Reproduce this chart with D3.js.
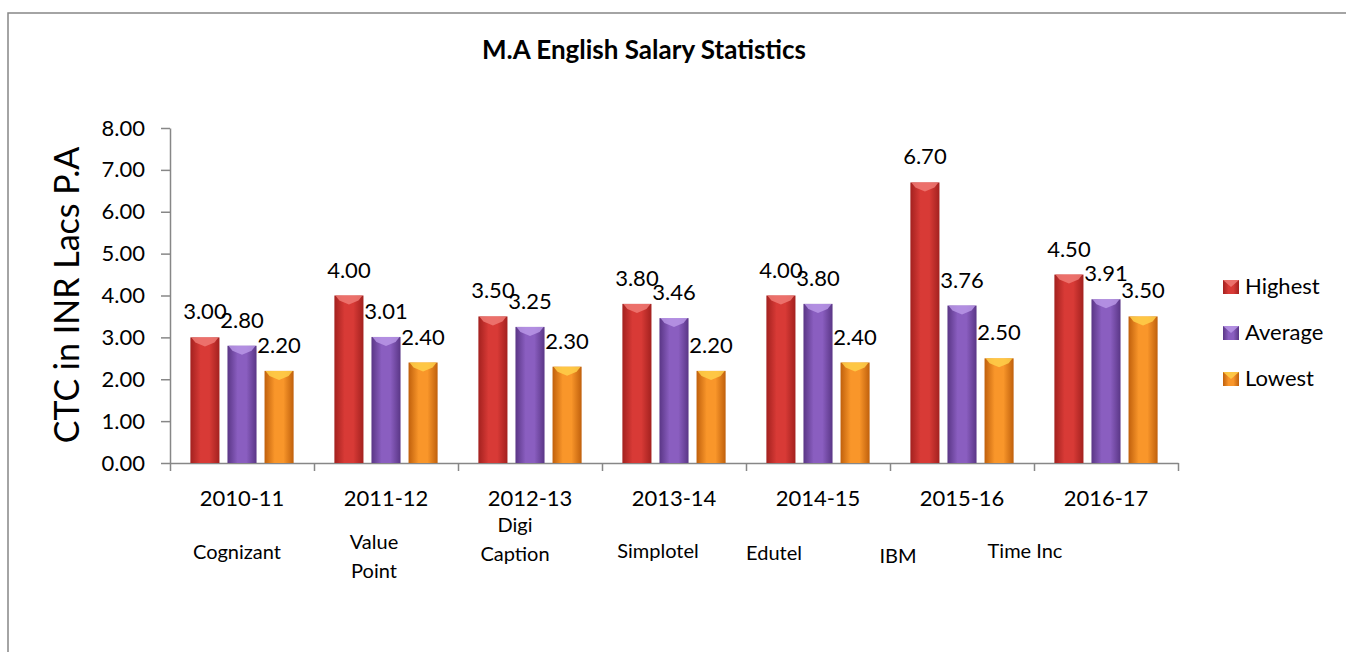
<!DOCTYPE html>
<html>
<head>
<meta charset="utf-8">
<script src="https://cdn.jsdelivr.net/npm/d3@7"></script>
<style>
  body { margin: 0; background: #fff; }
  svg { display: block; font-family: Lato, "Open Sans", sans-serif; }
</style>
</head>
<body>
<svg id="chart" width="1346" height="652"></svg>
<script>
// chart data
let years = ["2010-11", "2011-12", "2012-13", "2013-14", "2014-15", "2015-16", "2016-17"];
let companies = [["Cognizant"], ["Value", "Point"], ["Digi", "Caption"], ["Simplotel"], ["Edutel"], ["IBM"], ["Time Inc"]];
let series = ["Highest", "Average", "Lowest"];
let highest = [3.00, 4.00, 3.50, 3.80, 4.00, 6.70, 4.50];
let average = [2.80, 3.01, 3.25, 3.46, 3.80, 3.76, 3.91];
let lowest = [2.20, 2.40, 2.30, 2.20, 2.40, 2.50, 3.50];
let yTicks = [0, 1, 2, 3, 4, 5, 6, 7, 8];

// company text boxes sit a bit off the category centres (dx, baseline of last line)
let companyNudge = [[-5, 559], [-12, 578], [-15, 561], [-16, 558], [-44, 560], [-64, 563], [-81, 558]];

let colors = {
    "Highest": {edge: "#a3211f", mid: "#d83a36", cap: "#f07a74"},
    "Average": {edge: "#5a3686", mid: "#8a5ec0", cap: "#b996e6"},
    "Lowest":  {edge: "#c0600c", mid: "#f9962a", cap: "#ffd04a"}
};

let svg = d3.select("#chart");
let plotLeft = 170, plotRight = 1178, plotTop = 128, plotBottom = 463;

let values = {"Highest": highest, "Average": average, "Lowest": lowest};
let rows = [];
years.forEach(function(yr, i){
    series.forEach(function(s){
        rows.push({year: yr, series: s, value: values[s][i]});
    });
});

let x = d3.scaleBand().domain(years).range([plotLeft, plotRight]).padding(0);
let xs = d3.scaleBand().domain(series).range([0, x.bandwidth()]).paddingInner(0.216).paddingOuter(0.55);
let y = d3.scaleLinear().domain([0, 8]).range([plotBottom, plotTop]);
let xEdge = d3.scaleLinear().domain([0, years.length]).range([plotLeft, plotRight]);

/* gradients */
let defs = svg.append("defs");
series.forEach(function(s, i){
    let g = defs.append("linearGradient").attr("id", "grad" + i)
        .attr("x1", "0").attr("x2", "1").attr("y1", "0").attr("y2", "0");
    g.append("stop").attr("offset", "0%").attr("stop-color", colors[s].edge);
    g.append("stop").attr("offset", "35%").attr("stop-color", colors[s].mid);
    g.append("stop").attr("offset", "65%").attr("stop-color", colors[s].mid);
    g.append("stop").attr("offset", "100%").attr("stop-color", colors[s].edge);
});

/* outer frame */
svg.append("path")
    .attr("d", "M8,652 L8,13 L1346,13")
    .attr("fill", "none").attr("stroke", "#878787").attr("stroke-width", 1.5);

/* title */
svg.append("text")
    .attr("x", 644).attr("y", 59)
    .attr("text-anchor", "middle")
    .attr("font-size", 26).attr("font-weight", "bold")
    .text("M.A English Salary Statistics");

/* y axis title */
svg.append("text")
    .attr("transform", "translate(79,295) rotate(-90)")
    .attr("text-anchor", "middle")
    .attr("font-size", 34)
    .text("CTC in INR Lacs P.A");

/* y axis */
let yAxis = svg.append("g")
    .attr("transform", "translate(" + plotLeft + ",0)")
    .call(d3.axisLeft(y).tickValues(yTicks).tickFormat(d3.format(".2f")).tickSize(9).tickSizeOuter(0).tickPadding(16));
yAxis.selectAll("text").attr("font-size", 22).attr("fill", "#000").attr("font-family", "Lato, sans-serif");

/* x axis: ticks on category boundaries */
let xAxis = svg.append("g")
    .attr("transform", "translate(0," + plotBottom + ")")
    .call(d3.axisBottom(xEdge).ticks(years.length).tickFormat("").tickSize(8).tickSizeOuter(0));
svg.selectAll(".domain, .tick line").attr("stroke", "#878787").attr("stroke-width", 1.5);

/* category labels */
svg.append("g").selectAll("text")
    .data(years)
    .enter()
    .append("text")
    .attr("x", function(d){ return x(d) + x.bandwidth() / 2; })
    .attr("y", 506)
    .attr("text-anchor", "middle")
    .attr("font-size", 22)
    .text(function(d){ return d; });

/* company labels */
let comp = svg.append("g").selectAll("text")
    .data(companies)
    .enter()
    .append("text")
    .attr("text-anchor", "middle")
    .attr("font-size", 20)
    .attr("x", function(d, i){ return x(years[i]) + x.bandwidth() / 2 + companyNudge[i][0]; })
    .attr("y", function(d, i){ return companyNudge[i][1] - (d.length - 1) * 29; });
comp.each(function(d, i){
    let t = d3.select(this);
    let cx = +t.attr("x");
    d.forEach(function(line, j){
        t.append("tspan").attr("x", cx).attr("dy", j === 0 ? 0 : 29).text(line);
    });
});

/* bars */
let bars = svg.append("g").selectAll("g.bar")
    .data(rows)
    .enter()
    .append("g")
    .attr("class", "bar");

bars.append("rect")
    .attr("x", function(d){ return x(d.year) + xs(d.series); })
    .attr("y", function(d){ return y(d.value); })
    .attr("width", xs.bandwidth())
    .attr("height", function(d){ return plotBottom - y(d.value); })
    .attr("fill", function(d){ return "url(#grad" + series.indexOf(d.series) + ")"; });

// bevelled top of each bar
bars.append("path")
    .attr("d", function(d){
        let x0 = x(d.year) + xs(d.series), w = xs.bandwidth(), t = y(d.value);
        return "M" + (x0 + 1) + "," + t + " L" + (x0 + w - 1) + "," + t +
            " L" + (x0 + w - 5) + "," + (t + 5) + " L" + (x0 + w / 2) + "," + (t + 9) +
            " L" + (x0 + 5) + "," + (t + 5) + " Z";
    })
    .attr("fill", function(d){ return colors[d.series].cap; })
    .attr("opacity", 0.85);

/* value labels (they overlap in places, as in the original) */
bars.append("text")
    .attr("x", function(d){ return x(d.year) + xs(d.series) + xs.bandwidth() / 2; })
    .attr("y", function(d){ return y(d.value) - 18; })
    .attr("text-anchor", "middle")
    .attr("font-size", 22)
    .text(function(d){ return d3.format(".2f")(d.value); });

/* legend */
let legend = svg.append("g").selectAll("g")
    .data(series)
    .enter()
    .append("g")
    .attr("transform", function(d, i){ return "translate(1223," + (294 + i * 46) + ")"; });
legend.append("rect")
    .attr("y", -14).attr("width", 16).attr("height", 14)
    .attr("fill", function(d, i){ return "url(#grad" + i + ")"; });
legend.append("path")
    .attr("d", "M0,-14 L16,-14 L8,-7 Z")
    .attr("fill", function(d){ return colors[d].cap; })
    .attr("opacity", 0.85);
legend.append("text")
    .attr("x", 22)
    .attr("font-size", 22)
    .text(function(d){ return d; });
</script>
</body>
</html>
